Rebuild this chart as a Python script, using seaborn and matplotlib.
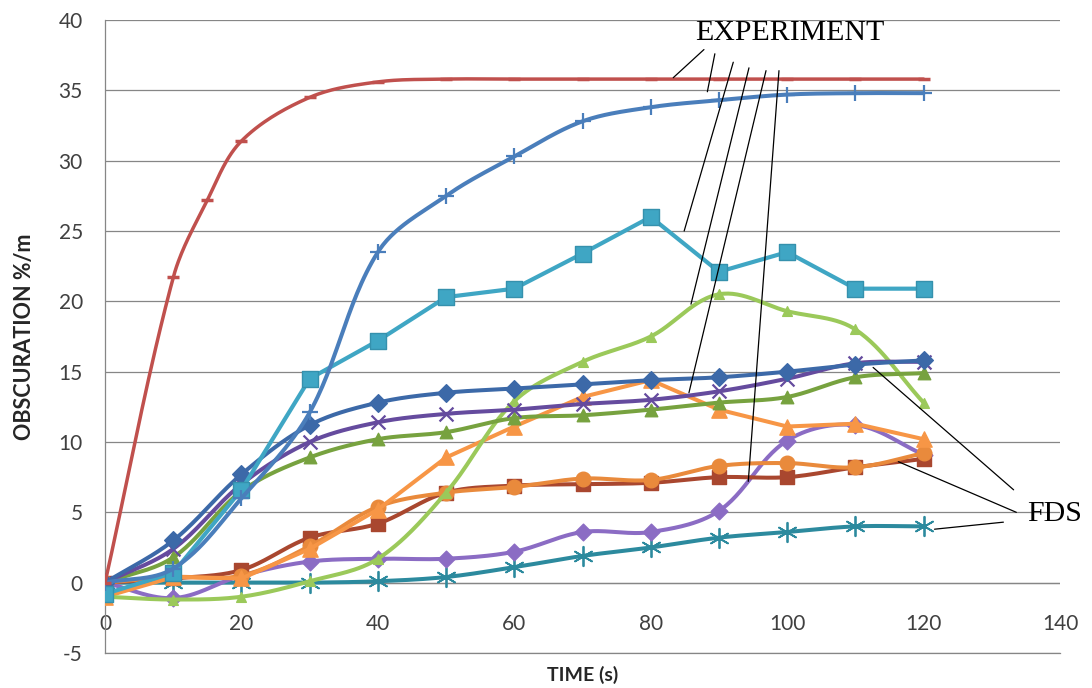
import numpy as np
import matplotlib
matplotlib.use("Agg")
import matplotlib.pyplot as plt
import seaborn as sns

# ---------------- data ----------------
time = [0, 10, 20, 30, 40, 50, 60, 70, 80, 90, 100, 110, 120]
time_red = [0, 10, 15, 20, 30, 40, 50, 60, 70, 80, 90, 100, 110, 120]

red_line = [0, 21.7, 27.2, 31.4, 34.5, 35.6, 35.8, 35.8, 35.8, 35.8, 35.8, 35.8, 35.8, 35.8]
blue_plus = [0, 1.0, 6.0, 12.1, 23.5, 27.5, 30.3, 32.8, 33.8, 34.3, 34.7, 34.8, 34.8]
cyan_square = [-0.8, 0.7, 6.6, 14.5, 17.2, 20.3, 20.9, 23.4, 26.0, 22.1, 23.5, 20.9, 20.9]
lightgreen_tri = [-1.0, -1.2, -1.0, 0.1, 1.7, 6.4, 12.9, 15.7, 17.5, 20.5, 19.3, 18.0, 12.8]
orange_tri = [-1.0, 0.4, 0.3, 2.4, 5.2, 8.9, 11.1, 13.2, 14.4, 12.3, 11.1, 11.3, 10.2]
blue_diamond = [0, 3.0, 7.7, 11.2, 12.8, 13.5, 13.8, 14.1, 14.4, 14.6, 15.0, 15.5, 15.8]
purple_x = [0, 2.4, 7.0, 10.0, 11.4, 12.0, 12.3, 12.7, 13.0, 13.6, 14.5, 15.6, 15.7]
green_tri = [0, 1.8, 6.5, 8.9, 10.2, 10.7, 11.7, 11.9, 12.3, 12.8, 13.2, 14.6, 14.9]
purple_diamond = [0, -1.1, 0.5, 1.5, 1.7, 1.7, 2.2, 3.6, 3.6, 5.1, 10.1, 11.2, 9.1]
teal_star = [0, 0, 0, 0, 0.1, 0.4, 1.1, 1.9, 2.5, 3.2, 3.6, 4.0, 4.0]
darkred_square = [0, 0.3, 0.9, 3.2, 4.2, 6.4, 6.9, 7.0, 7.1, 7.5, 7.5, 8.2, 8.8]
orange_circle = [0, 0.4, 0.5, 2.6, 5.4, 6.4, 6.8, 7.4, 7.3, 8.3, 8.5, 8.2, 9.2]

x_ticks = [0, 20, 40, 60, 80, 100, 120, 140]
y_ticks = [-5, 0, 5, 10, 15, 20, 25, 30, 35, 40]
x_title = "TIME (s)"
y_title = "OBSCURATION %/m"
label_exp = "EXPERIMENT"
label_fds = "FDS"

# leader lines: (from text, to curve) in data units
exp_leaders = [((87.8, 37.9), (83.3, 35.9)),
               ((89.4, 37.6), (88.3, 34.9)),
               ((92.1, 37.0), (84.9, 25.0)),
               ((94.4, 36.6), (85.9, 19.8)),
               ((96.9, 36.4), (85.6, 13.5)),
               ((98.8, 36.4), (94.3, 7.2))]
fds_leaders = [((133.2, 6.6), (112.6, 15.3)),
               ((133.6, 5.0), (116.3, 8.6)),
               ((131.7, 4.3), (121.6, 3.8))]

# screen aspect used only for the line smoothing (px per data unit)
SX, SY = 6.82, 14.07


def smooth(xs, ys, n=30):
    """Excel-like smoothed line: cubic Bezier through the points, tangents
    scaled by chord length in screen space."""
    P = np.column_stack([np.asarray(xs, float) * SX, np.asarray(ys, float) * SY])
    m = len(P)
    T = np.zeros_like(P)
    for i in range(m):
        a = P[max(i - 1, 0)]
        b = P[min(i + 1, m - 1)]
        d = b - a
        nrm = np.hypot(*d)
        T[i] = d / nrm if nrm > 0 else 0
    t = np.linspace(0, 1, n, endpoint=False)[:, None]
    segs = []
    for i in range(m - 1):
        p1, p2 = P[i], P[i + 1]
        L = np.hypot(*(p2 - p1)) / 3.0
        c1 = p1 + T[i] * L
        c2 = p2 - T[i + 1] * L
        segs.append((1 - t) ** 3 * p1 + 3 * (1 - t) ** 2 * t * c1
                    + 3 * (1 - t) * t ** 2 * c2 + t ** 3 * p2)
    segs.append(P[-1][None, :])
    out = np.vstack(segs)
    return out[:, 0] / SX, out[:, 1] / SY


sns.set_theme(style="white")
plt.rcParams["font.family"] = ["Lato", "DejaVu Sans"]
plt.rcParams["axes.unicode_minus"] = False

fig = plt.figure(figsize=(10.92, 6.88), dpi=100)
ax = fig.add_axes([0.0962, 0.0509, 0.8745, 0.920])
ax.set_facecolor("white")

series = [
    # (x, y, color, marker, size, lw, smooth, marker edge, mew)
    (time, teal_star, "#2C8A9E", (6, 2, 0), 14, 2.9, True, None, 1.3),
    (time, purple_diamond, "#8B6CC4", "D", 8.5, 2.9, True, None, 1.0),
    (time, darkred_square, "#A9472F", "s", 10, 2.9, True, None, 1.0),
    (time, orange_circle, "#E98A3C", "o", 10.5, 2.9, True, None, 1.0),
    (time, orange_tri, "#F79646", "^", 11, 2.9, False, None, 1.0),
    (time, lightgreen_tri, "#9BC95A", "^", 7, 2.9, True, None, 1.0),
    (time, green_tri, "#77A23F", "^", 9, 2.9, True, None, 1.0),
    (time, purple_x, "#654B9E", "x", 10, 2.9, True, None, 1.6),
    (time, blue_diamond, "#3C69A8", "D", 9, 2.9, True, None, 1.0),
    (time, cyan_square, "#3FA6C4", "s", 12, 3.0, False, "#3591AD", 1.0),
    (time, blue_plus, "#4A7EBB", "+", 12, 2.9, True, None, 1.6),
    (time_red, red_line, "#C0504D", "_", 9, 2.5, True, None, 2.5),
]

z = 3
for xs, ys, col, mk, ms, lw, sm, mec, mew in series:
    if sm:
        sx, sy = smooth(xs, ys)
    else:
        sx, sy = np.asarray(xs, float), np.asarray(ys, float)
    sns.lineplot(x=sx, y=sy, sort=False, estimator=None, color=col,
                 linewidth=lw, ax=ax, zorder=z)
    filled = mk in ("D", "s", "o", "^")
    if filled:
        sns.scatterplot(x=xs, y=ys, marker=mk, s=ms ** 2, color=col,
                        edgecolor=mec if mec else col, linewidth=mew,
                        ax=ax, zorder=z + 0.5, legend=False)
    else:
        ax.scatter(xs, ys, marker=mk, s=ms ** 2, color=col,
                   linewidths=mew, zorder=z + 0.5)
    z += 1

ax.set_xlim(0, 140)
ax.set_ylim(-5, 40)
ax.set_xticks(x_ticks)
ax.set_yticks(y_ticks)
ax.yaxis.grid(True, color="#868686", linewidth=0.9)
ax.xaxis.grid(False)
ax.axhline(0, color="#868686", linewidth=0.9, zorder=1)

for s in ("top", "right"):
    ax.spines[s].set_visible(False)
ax.spines["left"].set_color("#868686")
ax.spines["left"].set_linewidth(0.9)
ax.spines["bottom"].set_color("#868686")
ax.spines["bottom"].set_linewidth(0.9)

ax.tick_params(axis="y", length=0, pad=16, labelsize=15, labelcolor="#404040")
ax.tick_params(axis="x", length=0, pad=-28, labelsize=15, labelcolor="#404040")

ax.set_xlabel(x_title, fontsize=14, fontweight="bold", color="#262626")
ax.set_ylabel(y_title, fontsize=15.5, fontweight="bold", color="#262626")
ax.xaxis.set_label_coords(0.5, -0.020)
ax.yaxis.set_label_coords(-0.073, 0.5)

for (x0, y0), (x1, y1) in exp_leaders + fds_leaders:
    ax.annotate("", xy=(x1, y1), xytext=(x0, y0),
                arrowprops=dict(arrowstyle="-", color="black", lw=0.9,
                                shrinkA=0, shrinkB=0), zorder=30)

ax.text(100.4, 39.1, label_exp, family="Liberation Serif", fontsize=21.5,
        ha="center", va="center", color="black", zorder=31)
ax.text(139.2, 4.9, label_fds, family="Liberation Serif", fontsize=21.5,
        ha="center", va="center", color="black", zorder=31, clip_on=False)

fig.savefig("out.png", dpi=100)
